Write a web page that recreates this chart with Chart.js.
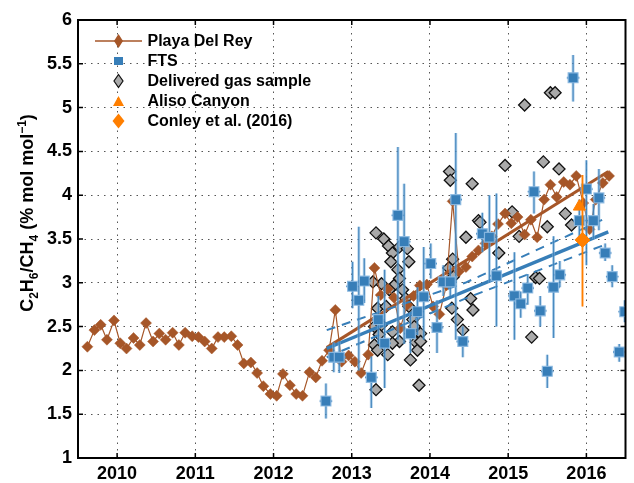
<!DOCTYPE html>
<html>
<head>
<meta charset="utf-8">
<script src="https://cdn.jsdelivr.net/npm/chart.js@4.4.1/dist/chart.umd.min.js"></script>
<style>
  html, body { margin: 0; padding: 0; background: #fff; }
  #wrap { width: 634px; height: 483px; }
</style>
</head>
<body>
<div id="wrap"><canvas id="chart" width="634" height="483"></canvas></div>
<script>
// Playa Del Rey monthly ratio
const pdrYears = [
  2009.62, 2009.71, 2009.79, 2009.87, 2009.96,
  2010.04, 2010.12, 2010.21, 2010.29, 2010.37, 2010.46, 2010.54, 2010.62, 2010.71, 2010.79, 2010.87, 2010.96,
  2011.04, 2011.12, 2011.21, 2011.29, 2011.37, 2011.46, 2011.54, 2011.62, 2011.71, 2011.79, 2011.87, 2011.96,
  2012.04, 2012.12, 2012.21, 2012.29, 2012.37, 2012.46, 2012.54, 2012.62, 2012.71, 2012.79, 2012.87, 2012.96,
  2013.04, 2013.12, 2013.21, 2013.29, 2013.37, 2013.46, 2013.54, 2013.62, 2013.71, 2013.79, 2013.87, 2013.96,
  2014.04, 2014.12, 2014.21, 2014.29, 2014.37, 2014.46, 2014.54, 2014.62, 2014.71, 2014.79, 2014.87, 2014.96,
  2015.04, 2015.12, 2015.21, 2015.29, 2015.37, 2015.46, 2015.54, 2015.62, 2015.71, 2015.79, 2015.87, 2015.96,
  2016.04, 2016.12, 2016.21, 2016.29
];
const pdrValues = [
  2.27, 2.46, 2.52, 2.35, 2.57,
  2.31, 2.25, 2.37, 2.29, 2.54, 2.33, 2.42, 2.35, 2.43, 2.29, 2.43, 2.39,
  2.38, 2.33, 2.25, 2.38, 2.38, 2.39, 2.29, 2.08, 2.09, 1.97, 1.82, 1.73,
  1.71, 1.96, 1.83, 1.73, 1.71, 1.98, 1.92, 2.11, 2.23, 2.69, 2.10, 2.17,
  2.10, 1.97, 2.18, 3.17, 2.86, 2.93, 2.83, 2.48, 2.75, 2.85, 2.97, 2.98,
  2.73, 2.64, 2.97, 3.93, 3.13, 3.18, 3.30, 3.37, 3.45, 3.53, 3.67, 3.79,
  3.68, 3.75, 3.55, 3.72, 3.52, 3.95, 4.12, 3.98, 4.15, 4.12, 4.22, 3.91,
  3.61, 3.95, 4.14, 4.22
];

// FTS retrievals with error ranges
const ftsYears = [2012.67, 2012.77, 2012.84, 2013.01, 2013.09, 2013.16, 2013.25, 2013.34, 2013.42, 2013.59,
  2013.67, 2013.75, 2013.84, 2013.92, 2014.01, 2014.09, 2014.17, 2014.26, 2014.33, 2014.42,
  2014.67, 2014.76, 2014.85, 2015.08, 2015.16, 2015.25, 2015.33, 2015.41, 2015.50, 2015.58,
  2015.66, 2015.83, 2015.91, 2016.00, 2016.09, 2016.16, 2016.24, 2016.33, 2016.42, 2016.49];
const ftsValues = [1.65, 2.15, 2.15, 2.96, 2.80, 3.02, 1.92, 2.58, 2.31, 3.77,
  3.47, 2.42, 2.67, 2.84, 3.22, 2.49, 3.01, 3.01, 3.95, 2.33,
  3.56, 3.52, 3.08, 2.85, 2.76, 2.94, 4.04, 2.68, 1.99, 2.95,
  3.09, 5.34, 3.71, 4.07, 3.71, 3.97, 3.34, 3.07, 2.21, 2.67];
const ftsLow = [1.45, 1.98, 1.97, 2.71, 2.00, 2.77, 1.57, 2.30, 1.80, 2.35,
  2.30, 2.20, 2.40, 2.35, 3.05, 2.20, 2.85, 2.85, 2.35, 2.15,
  3.35, 3.00, 2.50, 2.35, 2.60, 2.75, 3.79, 2.50, 1.80, 2.37,
  2.95, 5.07, 3.50, 3.20, 3.50, 3.60, 3.25, 2.95, 2.10, 2.55];
const ftsHigh = [1.85, 2.32, 2.33, 3.24, 3.64, 3.28, 2.16, 2.85, 3.15, 4.55,
  4.13, 2.65, 2.95, 3.41, 3.45, 2.80, 3.20, 3.20, 4.71, 2.50,
  3.80, 4.00, 4.02, 3.35, 2.90, 3.10, 4.27, 2.85, 2.18, 3.53,
  3.25, 5.60, 3.95, 4.40, 3.90, 4.30, 3.45, 3.20, 2.30, 2.80];
const ftsXErr = 0.08;

// Delivered gas samples
const gasYears = [2013.31, 2013.41, 2013.47, 2013.52, 2013.50, 2013.61, 2013.71, 2013.73, 2013.59, 2013.61,
  2013.54, 2013.38, 2013.27, 2013.48, 2013.65, 2013.69, 2013.33, 2013.44, 2013.73, 2013.78,
  2013.80, 2013.82, 2013.82, 2013.61, 2013.52, 2013.52, 2013.29, 2013.38, 2013.29, 2013.33,
  2013.46, 2013.75, 2013.86, 2013.31, 2013.84, 2013.88, 2013.88, 2013.35,
  2014.25, 2014.26, 2014.54, 2014.96, 2014.62, 2014.64, 2014.46, 2014.88, 2014.29, 2014.24,
  2014.30, 2014.52, 2014.55, 2014.28, 2014.35, 2014.42,
  2015.21, 2015.54, 2015.60, 2015.45, 2015.65, 2015.05, 2015.14, 2015.50, 2015.73, 2015.81,
  2015.35, 2015.40, 2015.30];
const gasValues = [3.57, 3.50, 3.42, 3.34, 3.24, 3.41, 3.39, 3.24, 3.15, 3.05,
  2.97, 2.99, 3.01, 2.92, 2.92, 2.82, 2.71, 2.73, 2.73, 2.58,
  2.50, 2.40, 2.32, 2.33, 2.44, 2.31, 2.50, 2.52, 2.29, 2.23,
  2.18, 2.12, 1.83, 1.78, 2.23, 2.42, 2.33, 2.41,
  4.27, 4.17, 4.13, 4.34, 3.71, 3.69, 3.52, 3.34, 3.27, 3.17,
  3.07, 2.82, 2.69, 2.71, 2.58, 2.46,
  5.03, 5.17, 5.17, 4.38, 4.30, 3.81, 3.53, 3.64, 3.79, 3.66,
  3.06, 3.05, 2.38];

// Aliso Canyon and Conley et al. (2016)
const alisoYears = [2015.91];
const alisoValues = [3.87];
const conleyYears = [2015.95];
const conleyValues = [3.49];
const conleyLow = [2.73];
const conleyHigh = [4.23];

// Linear trends and FTS confidence band
const trendYears = [2012.68, 2016.28];
const pdrTrend = [2.26, 4.27];
const ftsTrend = [2.25, 3.58];
const bandYears = [2012.68, 2014.45, 2016.28];
const ftsBandUpper = [2.46, 3.00, 3.75];
const ftsBandLower = [2.15, 2.82, 3.45];

const xTickValues = [2010, 2011, 2012, 2013, 2014, 2015, 2016];

const BROWN = '#a65628';
const BLUE = '#377eb8';
const ORANGE = '#ff7f00';
const FONT = "'Liberation Sans', Arial, Helvetica, sans-serif";

function pts(xs, ys) {
  return xs.map((x, i) => ({ x: x, y: ys[i] }));
}

const decorPlugin = {
  id: 'decor',
  beforeDatasetDraw(chart, args) {
    const ds = chart.data.datasets[args.index];
    if (!ds.errLow) return;
    const { ctx, chartArea: a, scales: { x, y } } = chart;
    ctx.save();
    ctx.beginPath();
    ctx.rect(a.left, a.top, a.right - a.left, a.bottom - a.top);
    ctx.clip();
    [[ds.errHalo, 3], [ds.errColor, 1.3]].forEach(([col, w]) => {
      ctx.strokeStyle = col;
      ctx.lineWidth = w;
      ds.data.forEach((p, i) => {
        const px = x.getPixelForValue(p.x);
        const py = y.getPixelForValue(p.y);
        ctx.beginPath();
        ctx.moveTo(px, y.getPixelForValue(ds.errLow[i]));
        ctx.lineTo(px, y.getPixelForValue(ds.errHigh[i]));
        if (ds.xErr) {
          ctx.moveTo(x.getPixelForValue(p.x - ds.xErr), py);
          ctx.lineTo(x.getPixelForValue(p.x + ds.xErr), py);
        }
        ctx.stroke();
      });
    });
    ctx.restore();
  },
  afterDraw(chart) {
    const { ctx, chartArea: a, scales: { x, y } } = chart;
    ctx.save();
    // inward ticks on all sides
    ctx.strokeStyle = '#000';
    ctx.lineWidth = 1.5;
    ctx.beginPath();
    xTickValues.forEach(v => {
      const px = x.getPixelForValue(v);
      ctx.moveTo(px, a.bottom); ctx.lineTo(px, a.bottom - 5);
      ctx.moveTo(px, a.top); ctx.lineTo(px, a.top + 5);
    });
    y.ticks.forEach(t => {
      const py = y.getPixelForValue(t.value);
      ctx.moveTo(a.left, py); ctx.lineTo(a.left + 5, py);
      ctx.moveTo(a.right, py); ctx.lineTo(a.right - 5, py);
    });
    ctx.stroke();
    // plot box
    ctx.lineWidth = 2;
    ctx.strokeRect(a.left, a.top, a.right - a.left, a.bottom - a.top);

    // legend
    const rows = [41, 61, 81, 101, 121];
    const mx = 118.5;
    const tx = 147.5;
    ctx.font = 'bold 16px ' + FONT;
    ctx.textAlign = 'left';
    ctx.textBaseline = 'middle';
    const items = chart.data.datasets.filter(d => d.legendRow !== undefined);
    items.forEach(d => {
      const ry = rows[d.legendRow];
      if (d.legendLine) {
        ctx.strokeStyle = d.borderColor;
        ctx.lineWidth = 1.5;
        ctx.beginPath(); ctx.moveTo(95, ry); ctx.lineTo(142, ry); ctx.stroke();
      }
      const [hw, hh] = d.legendSize;
      ctx.beginPath();
      if (d.legendShape === 'diamond') {
        ctx.moveTo(mx, ry - hh); ctx.lineTo(mx + hw, ry); ctx.lineTo(mx, ry + hh); ctx.lineTo(mx - hw, ry);
      } else if (d.legendShape === 'square') {
        ctx.rect(mx - hw, ry - hh, hw * 2, hh * 2);
      } else {
        ctx.moveTo(mx, ry - hh); ctx.lineTo(mx + hw, ry + hh); ctx.lineTo(mx - hw, ry + hh);
      }
      ctx.closePath();
      ctx.fillStyle = d.pointBackgroundColor;
      ctx.fill();
      if (d.legendStroke) {
        ctx.strokeStyle = d.legendStroke;
        ctx.lineWidth = 1.2;
        ctx.stroke();
      }
      ctx.fillStyle = '#000';
      ctx.fillText(d.label, tx, ry + 1);
    });

    // y-axis title with sub/superscripts
    const parts = [
      ['C', 0], ['2', 1], ['H', 0], ['6', 1], ['/CH', 0], ['4', 1],
      [' (% mol mol', 0], ['\u22121', 2], [')', 0]
    ];
    const big = 'bold 18px ' + FONT;
    const small = 'bold 12px ' + FONT;
    let total = 0;
    parts.forEach(([t, s]) => { ctx.font = s ? small : big; total += ctx.measureText(t).width; });
    ctx.translate(33, 213);
    ctx.rotate(-Math.PI / 2);
    ctx.textBaseline = 'alphabetic';
    ctx.fillStyle = '#000';
    let cx = -total / 2;
    parts.forEach(([t, s]) => {
      ctx.font = s ? small : big;
      const dy = s === 1 ? 5 : (s === 2 ? -7 : 0);
      ctx.fillText(t, cx, dy);
      cx += ctx.measureText(t).width;
    });
    ctx.restore();
  }
};

new Chart(document.getElementById('chart').getContext('2d'), {
  type: 'scatter',
  data: {
    datasets: [
      {
        label: 'Aliso Canyon',
        data: pts(alisoYears, alisoValues),
        pointStyle: 'triangle', pointRadius: 7,
        pointBackgroundColor: ORANGE, pointBorderColor: ORANGE, pointBorderWidth: 1,
        order: 0, legendRow: 3, legendShape: 'triangle', legendSize: [5.5, 5]
      },
      {
        label: 'Conley et al. (2016)',
        data: pts(conleyYears, conleyValues),
        pointStyle: 'rectRot', pointRadius: 7.5,
        pointBackgroundColor: ORANGE, pointBorderColor: ORANGE, pointBorderWidth: 1,
        errLow: conleyLow, errHigh: conleyHigh, errColor: ORANGE, errHalo: 'rgba(255,127,0,0.35)',
        order: 1, legendRow: 4, legendShape: 'diamond', legendSize: [6, 7.5]
      },
      {
        label: 'FTS',
        data: pts(ftsYears, ftsValues),
        pointStyle: 'rect', pointRadius: 7,
        pointBackgroundColor: BLUE, pointBorderColor: 'rgba(140,185,225,0.9)', pointBorderWidth: 1.2,
        errLow: ftsLow, errHigh: ftsHigh, xErr: ftsXErr,
        errColor: 'rgba(55,126,184,0.85)', errHalo: 'rgba(130,180,222,0.55)',
        clip: 0,
        order: 2, legendRow: 1, legendShape: 'square', legendSize: [4.5, 4]
      },
      {
        label: 'FTS trend',
        data: pts(trendYears, ftsTrend),
        showLine: true, borderColor: BLUE, borderWidth: 3.5, pointRadius: 0,
        order: 3
      },
      {
        label: 'FTS trend upper',
        data: pts(bandYears, ftsBandUpper),
        showLine: true, borderColor: BLUE, borderWidth: 2, borderDash: [9, 7], pointRadius: 0,
        order: 4
      },
      {
        label: 'FTS trend lower',
        data: pts(bandYears, ftsBandLower),
        showLine: true, borderColor: BLUE, borderWidth: 2, borderDash: [9, 7], pointRadius: 0,
        order: 4
      },
      {
        label: 'Playa Del Rey trend',
        data: pts(trendYears, pdrTrend),
        showLine: true, borderColor: BROWN, borderWidth: 3, pointRadius: 0,
        order: 5
      },
      {
        label: 'Playa Del Rey',
        data: pts(pdrYears, pdrValues),
        showLine: true, borderColor: BROWN, borderWidth: 1.2,
        pointStyle: 'rectRot', pointRadius: 5.5,
        pointBackgroundColor: BROWN, pointBorderColor: BROWN, pointBorderWidth: 0.5,
        order: 6, legendRow: 0, legendLine: true, legendShape: 'diamond', legendSize: [4.5, 7]
      },
      {
        label: 'Delivered gas sample',
        data: pts(gasYears, gasValues),
        pointStyle: 'rectRot', pointRadius: 6,
        pointBackgroundColor: '#aaaaaa', pointBorderColor: '#111111', pointBorderWidth: 1.3,
        order: 7, legendRow: 2, legendShape: 'diamond', legendSize: [4.5, 6.5], legendStroke: '#111111'
      }
    ]
  },
  options: {
    responsive: false,
    animation: false,
    events: [],
    layout: { padding: { top: 20, right: 2, left: 0, bottom: 0 } },
    plugins: {
      legend: { display: false },
      tooltip: { enabled: false }
    },
    scales: {
      x: {
        type: 'linear',
        min: 2009.5,
        max: 2016.5,
        afterBuildTicks: s => { s.ticks = xTickValues.map(v => ({ value: v })); },
        afterFit: s => { s.height = 25; },
        grid: { color: '#555', lineWidth: 1, drawTicks: false },
        border: { display: false, dash: [1.5, 5] },
        ticks: {
          padding: 5,
          color: '#000',
          font: { family: FONT, size: 18, weight: 'bold' },
          callback: v => String(v)
        }
      },
      y: {
        min: 1,
        max: 6,
        afterFit: s => { s.width = 78; },
        grid: { color: '#555', lineWidth: 1, drawTicks: false },
        border: { display: false, dash: [1.5, 5] },
        ticks: {
          stepSize: 0.5,
          padding: 6,
          color: '#000',
          font: { family: FONT, size: 18, weight: 'bold' },
          callback: v => String(Math.round(v * 10) / 10)
        }
      }
    }
  },
  plugins: [decorPlugin]
});
</script>
</body>
</html>
